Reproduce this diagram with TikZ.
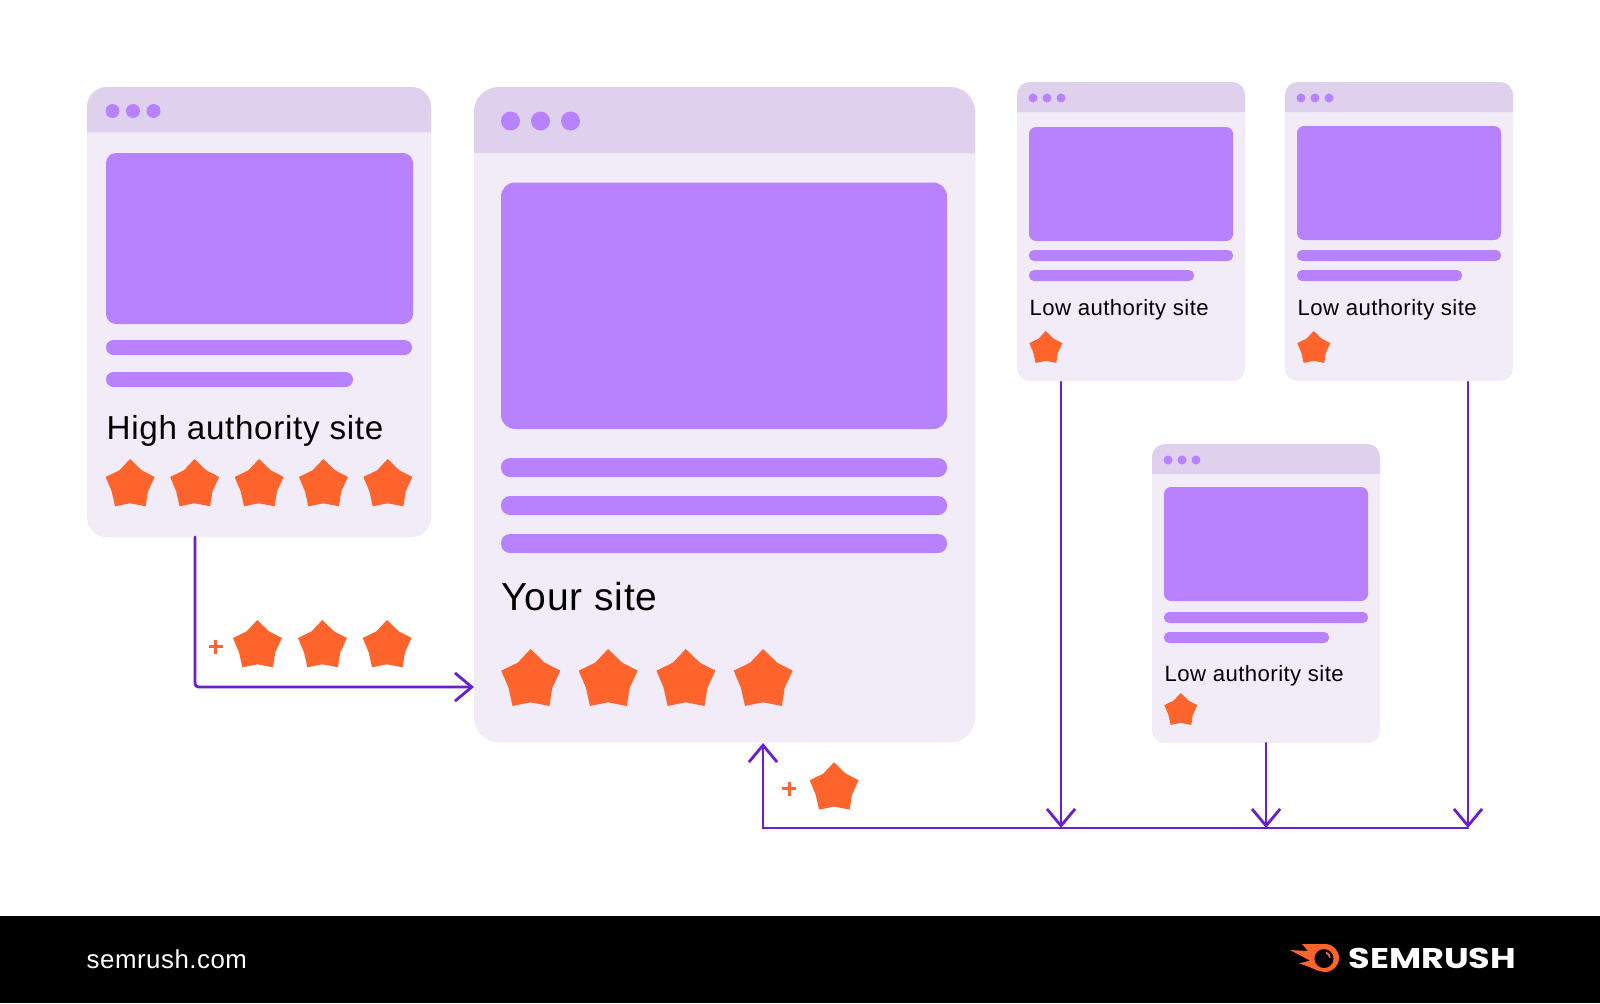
\documentclass[tikz,border=0pt]{standalone}
\usepackage{fontspec}
\setmainfont[LetterSpace=2]{Liberation Sans}
\newfontfamily\logofont[FakeStretch=1.23]{Poppins}
\usetikzlibrary{arrows.meta}
\definecolor{cardbg}{HTML}{F2ECF9}
\definecolor{barbg}{HTML}{DFD1EE}
\definecolor{boxbg}{HTML}{B882FF}
\definecolor{staror}{HTML}{FF642D}
\definecolor{linkcol}{HTML}{6A1FD0}
\tikzset{
    card/.style = {fill = cardbg, anchor = north west, inner sep = 0, outer sep = 0},
    ratestar/.pic = {\fill[staror] (0,0) -- (35,34) -- (74,54) -- (54,97) -- (47,142) -- (0,133) -- (-45,142) -- (-55,97) -- (-73,54) -- (-32,34) -- cycle;},
    label/.style = {anchor = base west, inner sep = 0, text = black},
    plus/.style = {fill = staror, line width = 0},
    link/.style = {draw = linkcol, line width = 0.8pt, line cap = round, >={Straight Barb[length = 4.8pt, width = 8pt]}}
}
\begin{document}
\begin{tikzpicture}[x = 0.01cm, y = -0.01cm]
    \useasboundingbox (0,0) rectangle (1600,1003);
    \fill[black] (0,916) rectangle (1600,1003);

    \node[card, minimum width = 3.44cm, minimum height = 4.5cm, rounded corners = 0.2cm] (high) at (87,87) {};
    \fill[barbg] (87,132) [rounded corners = 0.2cm] -- (87,87) -- (431,87) [sharp corners] -- (431,132) -- cycle;
    \foreach \x in {112.5,133,153.5}
        \fill[boxbg] (\x,111) circle[radius = 7];
    \fill[boxbg, rounded corners = 0.1cm] (106,153) rectangle (413,324);
    \fill[boxbg, rounded corners = 0.075cm] (106,340) rectangle (412,355);
    \fill[boxbg, rounded corners = 0.075cm] (106,372) rectangle (353,387);
    \node[label, font = \fontsize{9.45pt}{11pt}\selectfont] (hightext) at (106,439) {High authority site};
    \foreach \x in {130,194.5,259,323.3,387.7}
        \pic[scale = 0.333] at (\x,459) {ratestar};

    \node[card, minimum width = 5.01cm, minimum height = 6.55cm, rounded corners = 0.25cm] (your) at (474,87) {};
    \fill[barbg] (474,153) [rounded corners = 0.25cm] -- (474,87) -- (975,87) [sharp corners] -- (975,153) -- cycle;
    \foreach \x in {510.5,540.5,570.5}
        \fill[boxbg] (\x,121) circle[radius = 9.5];
    \fill[boxbg, rounded corners = 0.14cm] (501,182.5) rectangle (947,429);
    \foreach \y in {458,496,534}
        \fill[boxbg, rounded corners = 0.09cm] (501,\y) rectangle (947,\y+19);
    \node[label, font = \fontsize{11.1pt}{13pt}\selectfont] (yourtext) at (501,610) {Your site};
    \foreach \x in {530.6,608,685.7,763}
        \pic[scale = 0.401] at (\x,649) {ratestar};

    \foreach \n/\x/\y/\s/\t in {lowa/1017/82/0/233, lowb/1285/82/-1/233, lowc/1152/444/-2/237} {
        \node[card, minimum width = 2.28cm, minimum height = 2.99cm, rounded corners = 0.13cm] (\n) at (\x,\y) {};
        \fill[barbg] (\x,\y+30) [rounded corners = 0.13cm] -- (\x,\y) -- (\x+228,\y) [sharp corners] -- (\x+228,\y+30) -- cycle;
        \foreach \d in {16,30,44}
            \fill[boxbg] (\x+\d,\y+16) circle[radius = 4.5];
        \fill[boxbg, rounded corners = 0.07cm] (\x+12,\y+45+\s) rectangle (\x+216,\y+159+\s);
        \fill[boxbg, rounded corners = 0.05cm] (\x+12,\y+168) rectangle (\x+216,\y+179);
        \fill[boxbg, rounded corners = 0.05cm] (\x+12,\y+188) rectangle (\x+177,\y+199);
        \node[label, font = \fontsize{6.3pt}{8pt}\selectfont] (\n text) at (\x+12,\y+\t) {Low authority site};
        \pic[scale = 0.2245] at (\x+28.7,\y+249) {ratestar};
    }

    \coordinate (highout) at (195,537);
    \coordinate (yourin) at (474,687);
    \coordinate (yourout) at (763,743);
    \coordinate (busleft) at (763,828);
    \coordinate (busright) at (1468,828);
    \coordinate (lowaout) at (1061,382);
    \coordinate (lowbout) at (1468,382);
    \draw[link, ->, rounded corners = 1pt] (highout) |- (yourin);
    \draw[link, ->] (busright) -- (busleft) -- (yourout);
    \draw[link, ->] (lowaout) -- (lowaout |- busleft);
    \draw[link, ->] (lowc.south) -- (lowc.south |- busleft);
    \draw[link, ->] (lowbout) -- (busright);

    \foreach \x in {257.3,322.3,387}
        \pic[scale = 0.333] at (\x,620) {ratestar};
    \pic[scale = 0.333] at (834,762.3) {ratestar};
    \fill[plus] (208.5,645) rectangle (222.5,648);
    \fill[plus] (214,639.5) rectangle (217,653.5);
    \fill[plus] (782,787) rectangle (796,790);
    \fill[plus] (787.5,781.5) rectangle (790.5,795.5);

    \node[label, text = white, font = \fontsize{7.35pt}{9pt}\selectfont] (site) at (86,968) {semrush.com};
    \node[label, text = white, font = \logofont\bfseries\fontsize{8.1pt}{10pt}\selectfont] (brand) at (1348,968) {SEMRUSH};

    \fill[staror] (1302,944) -- (1325,944) arc[start angle = -90, end angle = 90, radius = 14] .. controls (1318,972) and (1312,967) .. (1299,963.5) -- (1310,960.5) -- (1290,950) -- (1308,951) -- cycle;
    \fill[black] (1324,958.5) circle[radius = 9.5];
    \draw[staror, line width = 0.5pt] (1326,952.5) arc[start angle = -70, end angle = -5, radius = 6];
\end{tikzpicture}
\end{document}
